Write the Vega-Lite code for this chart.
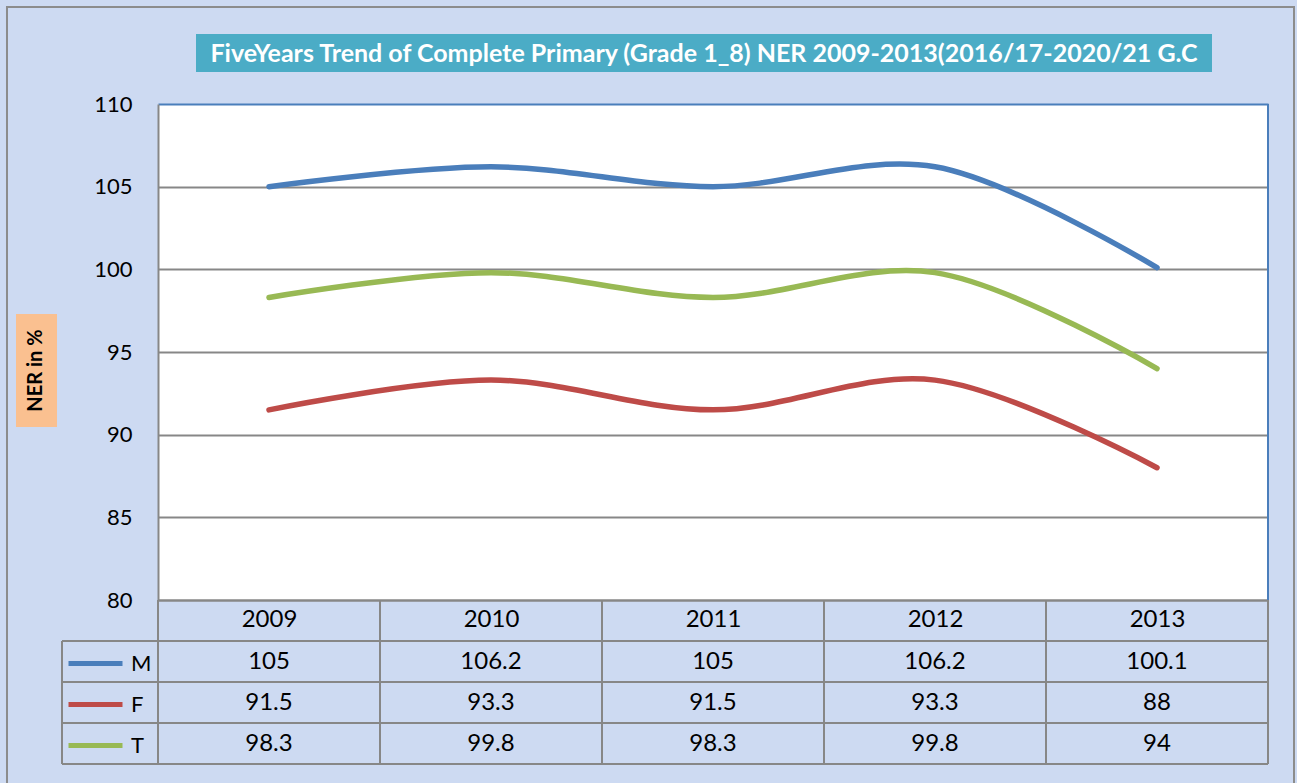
{
  "$schema": "https://vega.github.io/schema/vega-lite/v6.json",
  "width": 1110,
  "height": 496,
  "autosize": {"type": "none"},
  "padding": {"left": 158, "top": 104, "right": 29, "bottom": 183},
  "background": "#CDDAF2",
  "config": {
    "view": {"fill": "white", "stroke": null},
    "font": "Lato",
    "text": {"font": "Lato"}
  },
  "title": {
    "text": "FiveYears Trend of Complete Primary (Grade 1_8) NER 2009-2013(2016/17-2020/21 G.C",
    "anchor": "middle",
    "frame": "group",
    "dx": -9,
    "offset": -73,
    "baseline": "middle",
    "color": "white",
    "font": "Lato",
    "fontSize": 25,
    "fontWeight": "bold"
  },
  "data": {
    "values": [
      {"year": 2009, "sex": "M", "value": 105},
      {"year": 2010, "sex": "M", "value": 106.2},
      {"year": 2011, "sex": "M", "value": 105},
      {"year": 2012, "sex": "M", "value": 106.2},
      {"year": 2013, "sex": "M", "value": 100.1},
      {"year": 2009, "sex": "F", "value": 91.5},
      {"year": 2010, "sex": "F", "value": 93.3},
      {"year": 2011, "sex": "F", "value": 91.5},
      {"year": 2012, "sex": "F", "value": 93.3},
      {"year": 2013, "sex": "F", "value": 88},
      {"year": 2009, "sex": "T", "value": 98.3},
      {"year": 2010, "sex": "T", "value": 99.8},
      {"year": 2011, "sex": "T", "value": 98.3},
      {"year": 2012, "sex": "T", "value": 99.8},
      {"year": 2013, "sex": "T", "value": 94}
    ]
  },
  "encoding": {
    "x": {
      "type": "quantitative",
      "scale": {"domain": [2008.5, 2013.5], "nice": false, "zero": false},
      "axis": {
        "title": null,
        "values": [2009, 2010, 2011, 2012, 2013],
        "format": "d",
        "grid": false,
        "ticks": false,
        "domainColor": "#878787",
        "domainWidth": 2,
        "labelFont": "Lato",
        "labelFontSize": 24,
        "labelColor": "#000000",
        "labelPadding": 7
      }
    },
    "y": {
      "type": "quantitative",
      "scale": {"domain": [80, 110], "nice": false, "zero": false},
      "axis": {
        "title": null,
        "values": [80, 85, 90, 95, 100, 105, 110],
        "grid": true,
        "gridColor": {"condition": {"test": "datum.value == 110", "value": "#4A7EBB"}, "value": "#878787"},
        "gridWidth": 2,
        "ticks": false,
        "domainColor": "#878787",
        "domainWidth": 2,
        "labelFont": "Lato",
        "labelFontSize": 22,
        "labelColor": "#000000",
        "labelPadding": 26
      }
    }
  },
  "layer": [
    {
      "data": {"values": [{}]},
      "mark": {"type": "rect", "fill": "#4BACC6"},
      "encoding": {
        "x": {"datum": 2008.6712}, "x2": {"datum": 2013.2477},
        "y": {"datum": 114.234}, "y2": {"datum": 111.936}
      }
    },
    {
      "data": {"values": [{}]},
      "mark": {"type": "rect", "fill": "#FAC090"},
      "encoding": {
        "x": {"datum": 2007.8604}, "x2": {"datum": 2008.0451},
        "y": {"datum": 97.298}, "y2": {"datum": 90.464}
      }
    },
    {
      "data": {"values": [{"label": "NER in %"}]},
      "mark": {"type": "text", "angle": 270, "fontSize": 20, "fontWeight": "bold", "color": "#000000", "align": "center", "baseline": "middle"},
      "encoding": {
        "x": {"datum": 2007.9527},
        "y": {"datum": 93.881},
        "text": {"field": "label"}
      }
    },
    {
      "data": {"values": [{}]},
      "mark": {"type": "rect", "fill": null, "fillOpacity": 0, "stroke": "#8C8C8C", "strokeWidth": 2},
      "encoding": {
        "x": {"datum": 2007.8198}, "x2": {"datum": 2013.6171},
        "y": {"datum": 115.867}, "y2": {"datum": 68.51}
      }
    },
    {
      "data": {"values": [{}]},
      "mark": {"type": "rule", "color": "#4A7EBB", "strokeWidth": 2},
      "encoding": {"x": {"datum": 2013.5}, "y": {"datum": 80}, "y2": {"datum": 110}}
    },
    {
      "data": {"values": [{}]},
      "mark": {"type": "rule", "color": "#878787", "strokeWidth": 2},
      "encoding": {"x": {"datum": 2008.0676}, "x2": {"datum": 2013.5}, "y": {"datum": 77.52}}
    },
    {
      "data": {"values": [{}]},
      "mark": {"type": "rule", "color": "#878787", "strokeWidth": 2},
      "encoding": {"x": {"datum": 2008.0676}, "x2": {"datum": 2013.5}, "y": {"datum": 75.04}}
    },
    {
      "data": {"values": [{}]},
      "mark": {"type": "rule", "color": "#878787", "strokeWidth": 2},
      "encoding": {"x": {"datum": 2008.0676}, "x2": {"datum": 2013.5}, "y": {"datum": 72.56}}
    },
    {
      "data": {"values": [{}]},
      "mark": {"type": "rule", "color": "#878787", "strokeWidth": 2},
      "encoding": {"x": {"datum": 2008.0676}, "x2": {"datum": 2013.5}, "y": {"datum": 70.08}}
    },
    {
      "data": {"values": [{}]},
      "mark": {"type": "rule", "color": "#878787", "strokeWidth": 2},
      "encoding": {"x": {"datum": 2013.5}, "y": {"datum": 80}, "y2": {"datum": 70.08}}
    },
    {
      "data": {"values": [{}]},
      "mark": {"type": "rule", "color": "#878787", "strokeWidth": 2},
      "encoding": {"x": {"datum": 2008.0676}, "y": {"datum": 77.52}, "y2": {"datum": 70.08}}
    },
    {
      "transform": [{"filter": "datum.sex == 'M'"}],
      "mark": {"type": "rule", "color": "#878787", "strokeWidth": 2, "xOffset": -111},
      "encoding": {"x": {"field": "year"}, "y": {"datum": 80}, "y2": {"datum": 70.08}}
    },
    {
      "mark": {"type": "line", "interpolate": "catmull-rom", "strokeWidth": 5.5, "strokeCap": "round"},
      "encoding": {
        "x": {"field": "year"},
        "y": {"field": "value"},
        "color": {
          "field": "sex",
          "type": "nominal",
          "scale": {"domain": ["M", "F", "T"], "range": ["#4A7EBB", "#BE4B48", "#98B954"]},
          "legend": {
            "orient": "none",
            "legendX": -92,
            "legendY": 530,
            "title": null,
            "direction": "vertical",
            "symbolType": "stroke",
            "symbolStrokeWidth": 5,
            "symbolSize": 2916,
            "labelFont": "Lato",
            "labelFontSize": 22,
            "labelColor": "#000000",
            "labelOffset": 6,
            "rowPadding": -13,
            "padding": 0
          }
        }
      }
    },
    {
      "transform": [{"filter": "datum.sex == 'M'"}],
      "mark": {"type": "text", "fontSize": 24, "color": "#000000"},
      "encoding": {"x": {"field": "year"}, "y": {"datum": 76.28}, "text": {"field": "value"}}
    },
    {
      "transform": [{"filter": "datum.sex == 'F'"}],
      "mark": {"type": "text", "fontSize": 24, "color": "#000000"},
      "encoding": {"x": {"field": "year"}, "y": {"datum": 73.8}, "text": {"field": "value"}}
    },
    {
      "transform": [{"filter": "datum.sex == 'T'"}],
      "mark": {"type": "text", "fontSize": 24, "color": "#000000"},
      "encoding": {"x": {"field": "year"}, "y": {"datum": 71.32}, "text": {"field": "value"}}
    }
  ]
}
